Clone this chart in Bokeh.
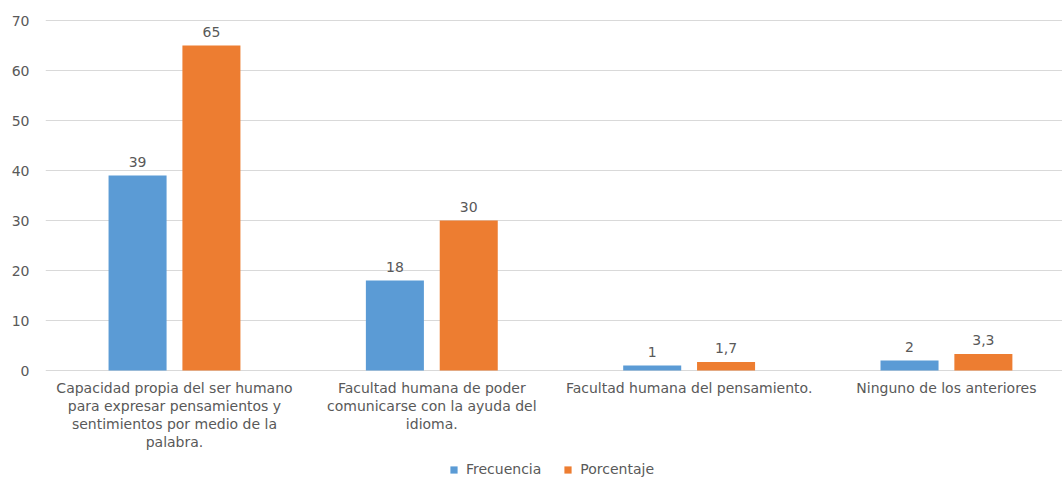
from bokeh.plotting import figure
from bokeh.models import ColumnDataSource, Range1d, FixedTicker, Legend, LegendItem
from bokeh.transform import dodge
from bokeh.core.properties import value
from bokeh.embed import file_html
from bokeh.resources import INLINE

categories = [
    "Capacidad propia del ser humano\npara expresar pensamientos y\nsentimientos por medio de la\npalabra.",
    "Facultad humana de poder\ncomunicarse con la ayuda del\nidioma.",
    "Facultad humana del pensamiento.",
    "Ninguno de los anteriores",
]
frecuencia = [39, 18, 1, 2]
porcentaje = [65, 30, 1.7, 3.3]
y_ticks = [0, 10, 20, 30, 40, 50, 60, 70]

BLUE = "#5B9BD5"
ORANGE = "#ED7D31"
TEXT = "#595959"
GRID = "#D9D9D9"
FONT = "DejaVu Sans"
FS = "14px"

def fmt(v):
    return str(v).replace(".", ",")

idx = list(range(len(categories)))
src = ColumnDataSource(dict(
    x=idx,
    cat=categories,
    zero=[0] * len(idx),
    frec=frecuencia,
    porc=porcentaje,
    frec_lbl=[fmt(v) for v in frecuencia],
    porc_lbl=[fmt(v) for v in porcentaje],
))

p = figure(width=1062, height=477, output_backend="svg", toolbar_location=None,
           x_range=Range1d(-0.5013, 3.451), y_range=Range1d(-21.4, 74),
           min_border_left=45, min_border_right=0, min_border_top=0, min_border_bottom=0)
p.outline_line_color = None
p.background_fill_color = "white"
p.border_fill_color = "white"

p.xaxis.visible = False
p.xgrid.grid_line_color = None
p.ygrid.grid_line_color = GRID
p.ygrid.grid_line_width = 1
p.yaxis.ticker = FixedTicker(ticks=y_ticks)
p.ygrid.ticker = FixedTicker(ticks=y_ticks)
p.yaxis.axis_line_color = None
p.yaxis.major_tick_line_color = None
p.yaxis.minor_tick_line_color = None
p.yaxis.major_tick_out = 0
p.yaxis.major_label_standoff = 16
p.yaxis.major_label_text_font = FONT
p.yaxis.major_label_text_font_size = FS
p.yaxis.major_label_text_color = TEXT

off = 0.1435
bw = 0.2255
r1 = p.vbar(x=dodge("x", -off), top="frec", width=bw, source=src, fill_color=BLUE, line_color=None)
r2 = p.vbar(x=dodge("x", off), top="porc", width=bw, source=src, fill_color=ORANGE, line_color=None)

p.text(x=dodge("x", -off), y="frec", text="frec_lbl", source=src, text_align="center",
       text_baseline="middle", y_offset=-14, text_font=value(FONT), text_font_size=FS,
       text_color=TEXT)
p.text(x=dodge("x", off), y="porc", text="porc_lbl", source=src, text_align="center",
       text_baseline="middle", y_offset=-14, text_font=value(FONT), text_font_size=FS,
       text_color=TEXT)

p.text(x="x", y="zero", text="cat", source=src, text_align="center", text_baseline="top",
       y_offset=9, text_font=value(FONT), text_font_size=FS, text_color=TEXT,
       text_line_height=1.13)

legend = Legend(items=[LegendItem(label="Frecuencia", renderers=[r1]),
                       LegendItem(label="Porcentaje", renderers=[r2])],
                orientation="horizontal", location=(404, 0),
                glyph_width=9, glyph_height=9, label_standoff=8, spacing=22,
                padding=0, margin=0, border_line_color=None, background_fill_alpha=0,
                label_text_font=FONT, label_text_font_size=FS, label_text_color=TEXT,
                label_height=12)
p.add_layout(legend)

open("out.html", "w").write(file_html(p, INLINE))
